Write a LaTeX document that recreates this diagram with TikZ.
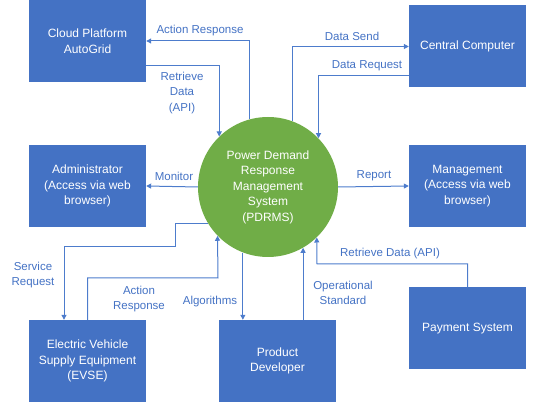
\documentclass[tikz,border=0pt]{standalone}
\usepackage{fontspec}
\setmainfont{Liberation Sans}
\usetikzlibrary{arrows.meta}
\definecolor{boxblue}{HTML}{4472C4}
\definecolor{hubgreen}{HTML}{70AD47}
\definecolor{flowblue}{HTML}{4D7CCC}

\begin{document}
\begin{tikzpicture}[x=1pt,y=-1pt]
                            \useasboundingbox (0,0) rectangle (547,411);
                            \begin{scope}[every node/.style={rectangle,fill=boxblue,text=white,minimum width=117pt,minimum height=82pt,inner sep=2pt,align=center,font=\fontsize{12}{15.5}\selectfont}]
                                \node (cloud) at (87.5,41) {Cloud Platform\\AutoGrid};
                                \node (central) at (467.5,46.5) {Central Computer};
                                \node (admin) at (87.5,186) {Administrator\\(Access via web\\browser)};
                                \node (mgmt) at (467.5,186) {Management\\(Access via web\\browser)};
                                \node (evse) at (87.5,361) {Electric Vehicle\\Supply Equipment\\(EVSE)};
                                \node (devel) at (277.5,361) {Product\\Developer};
                                \node (pay) at (467.5,328.5) {Payment System};
                            \end{scope}
                            \node[circle,fill=hubgreen,text=white,minimum size=140pt,inner sep=0pt,align=center,font=\fontsize{12}{15.5}\selectfont] (hub) at (268,187) {Power Demand\\Response\\Management\\System\\(PDRMS)};
                            \coordinate (srqbend) at (175,247);
                            \coordinate (arspbend) at (218,278);
                            \coordinate (paybend) at (317,264);
                            \begin{scope}[every path/.style={draw=flowblue,line width=1pt,-{Triangle[length=5pt,width=5pt]}}]
                                \draw (hub.105) |- (cloud.east);
                                \draw ([yshift=-25pt]cloud.east) -| (hub.134);
                                \draw (hub.70) |- (central.west);
                                \draw ([yshift=-29.5pt]central.west) -| (hub.44);
                                \draw (hub.west) -- (admin.east);
                                \draw (hub.east) -- (mgmt.west);
                                \draw (hub.211) -| (srqbend) -| ([xshift=-23.5pt]evse.north);
                                \draw (evse.north) |- (arspbend) -- (hub.224);
                                \draw (hub.249) -- (hub.249 |- devel.north);
                                \draw (hub.300 |- devel.north) -- (hub.300);
                                \draw (pay.north) |- (paybend) -- (hub.314);
                            \end{scope}
                            \begin{scope}[every node/.style={text=boxblue,align=center,inner sep=0pt,font=\fontsize{11.5}{15.5}\selectfont}]
                                \node (lactup) at (200,31) {Action Response};
                                \node (lretcl) at (182,93) {Retrieve\\Data\\(API)};
                                \node (lsend) at (352,36) {Data Send};
                                \node (lreq) at (367,66) {Data Request};
                                \node (lmon) at (174,176) {Monitor};
                                \node (lrep) at (374,176) {Report};
                                \node (lsrq) at (33,275) {Service\\Request};
                                \node (lactdn) at (139,299) {Action\\Response};
                                \node (lalg) at (210,302) {Algorithms};
                                \node (lops) at (343,293) {Operational\\Standard};
                                \node (lretpay) at (390,254) {Retrieve Data (API)};
                            \end{scope}
\end{tikzpicture}
\end{document}
